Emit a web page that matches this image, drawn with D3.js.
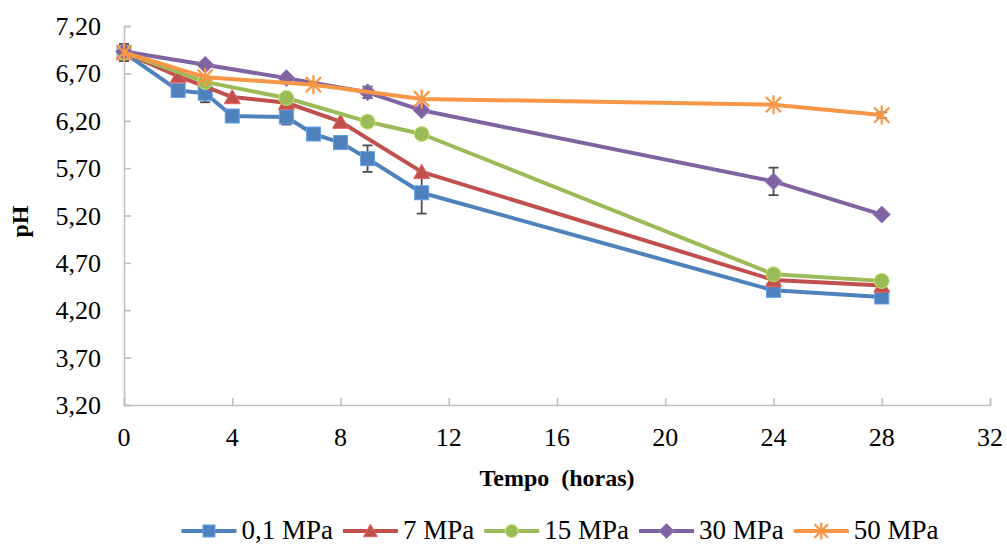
<!DOCTYPE html>
<html>
<head>
<meta charset="utf-8">
<script src="https://cdn.jsdelivr.net/npm/d3@7"></script>
<style>
  html, body { margin: 0; padding: 0; background: #ffffff; }
  svg { display: block; }
</style>
</head>
<body>
<svg id="chart" width="1007" height="546"></svg>
<script>
// ---- data ----
const xTicks = [0, 4, 8, 12, 16, 20, 24, 28, 32];
const yTicks = [3.2, 3.7, 4.2, 4.7, 5.2, 5.7, 6.2, 6.7, 7.2];

const seriesNames = ["0,1 MPa", "7 MPa", "15 MPa", "30 MPa", "50 MPa"];
const seriesColors = ["#4F81BD", "#C0504D", "#9BBB59", "#8064A2", "#F79646"];
const seriesMarkers = ["square", "triangle", "circle", "diamond", "star"];

const tempo01 = [0, 2, 3, 4, 6, 7, 8, 9, 11, 24, 28];
const ph01    = [6.92, 6.52, 6.49, 6.25, 6.24, 6.06, 5.97, 5.80, 5.44, 4.41, 4.34];
const err01   = [0.09, 0, 0.095, 0, 0.08, 0, 0, 0.14, 0.22, 0, 0];

const tempo7 = [0, 2, 4, 6, 8, 11, 24, 28];
const ph7    = [6.92, 6.67, 6.45, 6.39, 6.19, 5.66, 4.52, 4.46];
const err7   = [0, 0, 0, 0, 0, 0, 0, 0];

const tempo15 = [0, 3, 6, 9, 11, 24, 28];
const ph15    = [6.92, 6.61, 6.44, 6.19, 6.06, 4.58, 4.51];
const err15   = [0, 0, 0, 0, 0, 0, 0];

const tempo30 = [0, 3, 6, 9, 11, 24, 28];
const ph30    = [6.93, 6.79, 6.65, 6.50, 6.31, 5.56, 5.21];
const err30   = [0, 0, 0, 0.06, 0, 0.145, 0];

const tempo50 = [0, 3, 7, 11, 24, 28];
const ph50    = [6.92, 6.66, 6.58, 6.43, 6.37, 6.26];
const err50   = [0, 0, 0, 0, 0, 0.03];

const seriesTempo = [tempo01, tempo7, tempo15, tempo30, tempo50];
const seriesPh = [ph01, ph7, ph15, ph30, ph50];
const seriesErr = [err01, err7, err15, err30, err50];

// ---- layout ----
const FONT = "'Liberation Serif', 'Times New Roman', Tinos, Times, 'DejaVu Serif', serif";
const svg = d3.select("#chart").attr("font-family", FONT);
const mLeft = 124, mRight = 990, mTop = 26, mBottom = 405;

const x = d3.scaleLinear().domain([0, 32]).range([mLeft, mRight]);
const y = d3.scaleLinear().domain([3.2, 7.2]).range([mBottom, mTop]);
const fmt = v => d3.format(".2f")(v).replace(".", ",");

const axisColor = "#BFBFBF";
const tickFont = 26;

// axes (inside ticks)
const yAxis = d3.axisLeft(y).tickValues(yTicks).tickSize(-7).tickFormat("");
const gy = svg.append("g").attr("transform", `translate(${mLeft},0)`).call(yAxis);
const xAxis = d3.axisBottom(x).tickValues(xTicks).tickSize(-7).tickFormat("");
const gx = svg.append("g").attr("transform", `translate(0,${mBottom})`).call(xAxis);
[gx, gy].forEach(g => {
  g.select(".domain").attr("stroke", axisColor).attr("stroke-width", 1.6);
  g.selectAll(".tick line").attr("stroke", axisColor).attr("stroke-width", 1.6);
});

// tick labels
svg.append("g").selectAll("text").data(yTicks).join("text")
  .attr("font-family", FONT)
  .attr("x", mLeft - 23).attr("y", d => y(d) + 9)
  .attr("text-anchor", "end").attr("font-size", tickFont).attr("fill", "#000")
  .text(fmt);
svg.append("g").selectAll("text").data(xTicks).join("text")
  .attr("font-family", FONT)
  .attr("x", d => x(d)).attr("y", mBottom + 41)
  .attr("text-anchor", "middle").attr("font-size", tickFont).attr("fill", "#000")
  .text(d => d);

// axis titles
svg.append("text")
  .attr("font-family", FONT)
  .attr("x", (mLeft + mRight) / 2).attr("y", 486)
  .attr("text-anchor", "middle").attr("font-size", 24).attr("font-weight", "bold")
  .attr("xml:space", "preserve")
  .text("Tempo  (horas)");
svg.append("text")
  .attr("font-family", FONT)
  .attr("transform", `translate(28,${(mTop + mBottom) / 2 + 6}) rotate(-90)`)
  .attr("text-anchor", "middle").attr("font-size", 24).attr("font-weight", "bold")
  .text("pH");

// marker drawing
function drawMarker(g, type, color, cx, cy, s) {
  const light = d3.color(color).brighter(0.6).formatHex();
  if (type === "square") {
    g.append("rect").attr("x", cx - s / 2).attr("y", cy - s / 2).attr("width", s).attr("height", s)
      .attr("fill", color).attr("stroke", light).attr("stroke-width", 1);
  } else if (type === "triangle") {
    const h = s * 0.95;
    g.append("path").attr("d", `M${cx},${cy - h / 2 - 1}L${cx + s / 2 + 1},${cy + h / 2}L${cx - s / 2 - 1},${cy + h / 2}Z`)
      .attr("fill", color).attr("stroke", light).attr("stroke-width", 1);
  } else if (type === "circle") {
    g.append("circle").attr("cx", cx).attr("cy", cy).attr("r", s / 2 + 0.5)
      .attr("fill", color).attr("stroke", light).attr("stroke-width", 1);
  } else if (type === "diamond") {
    const r = s / 2 + 1.5;
    g.append("path").attr("d", `M${cx},${cy - r}L${cx + r},${cy}L${cx},${cy + r}L${cx - r},${cy}Z`)
      .attr("fill", color).attr("stroke", light).attr("stroke-width", 1);
  } else if (type === "star") {
    const r = s / 2 + 2.5;
    const d = r * 0.8;
    g.append("path")
      .attr("d", `M${cx},${cy - r}L${cx},${cy + r}M${cx - d},${cy - d}L${cx + d},${cy + d}M${cx - d},${cy + d}L${cx + d},${cy - d}`)
      .attr("stroke", color).attr("stroke-width", 2.2).attr("fill", "none");
  }
}

// series
const line = d3.line().x(d => x(d.t)).y(d => y(d.v));
seriesNames.forEach((name, i) => {
  const pts = seriesTempo[i].map((t, j) => ({ t, v: seriesPh[i][j], e: seriesErr[i][j] }));
  const g = svg.append("g");
  // error bars
  pts.filter(p => p.e > 0).forEach(p => {
    const eg = g.append("g").attr("stroke", "#4D4D4D").attr("stroke-width", 1.8);
    eg.append("line").attr("x1", x(p.t)).attr("x2", x(p.t)).attr("y1", y(p.v - p.e)).attr("y2", y(p.v + p.e));
    eg.append("line").attr("x1", x(p.t) - 5).attr("x2", x(p.t) + 5).attr("y1", y(p.v - p.e)).attr("y2", y(p.v - p.e));
    eg.append("line").attr("x1", x(p.t) - 5).attr("x2", x(p.t) + 5).attr("y1", y(p.v + p.e)).attr("y2", y(p.v + p.e));
  });
  g.append("path").datum(pts).attr("d", line)
    .attr("fill", "none").attr("stroke", seriesColors[i]).attr("stroke-width", 4)
    .attr("stroke-linejoin", "round");
  pts.forEach(p => drawMarker(g, seriesMarkers[i], seriesColors[i], x(p.t), y(p.v), 14));
});

// legend
const legY = 531;
const lg = svg.append("g");
let cursor = 0;
seriesNames.forEach((name, i) => {
  const ig = lg.append("g");
  ig.append("line").attr("x1", cursor).attr("x2", cursor + 55).attr("y1", legY).attr("y2", legY)
    .attr("stroke", seriesColors[i]).attr("stroke-width", 4);
  drawMarker(ig, seriesMarkers[i], seriesColors[i], cursor + 27.5, legY, 12);
  const t = ig.append("text").attr("font-family", FONT)
    .attr("x", cursor + 60).attr("y", legY + 8)
    .attr("font-size", 27).attr("fill", "#000").text(name);
  const w = t.node().getComputedTextLength();
  cursor += 60 + w + 10;
});
const totalW = cursor - 10;
lg.attr("transform", `translate(${560 - totalW / 2},0)`);
</script>
</body>
</html>
